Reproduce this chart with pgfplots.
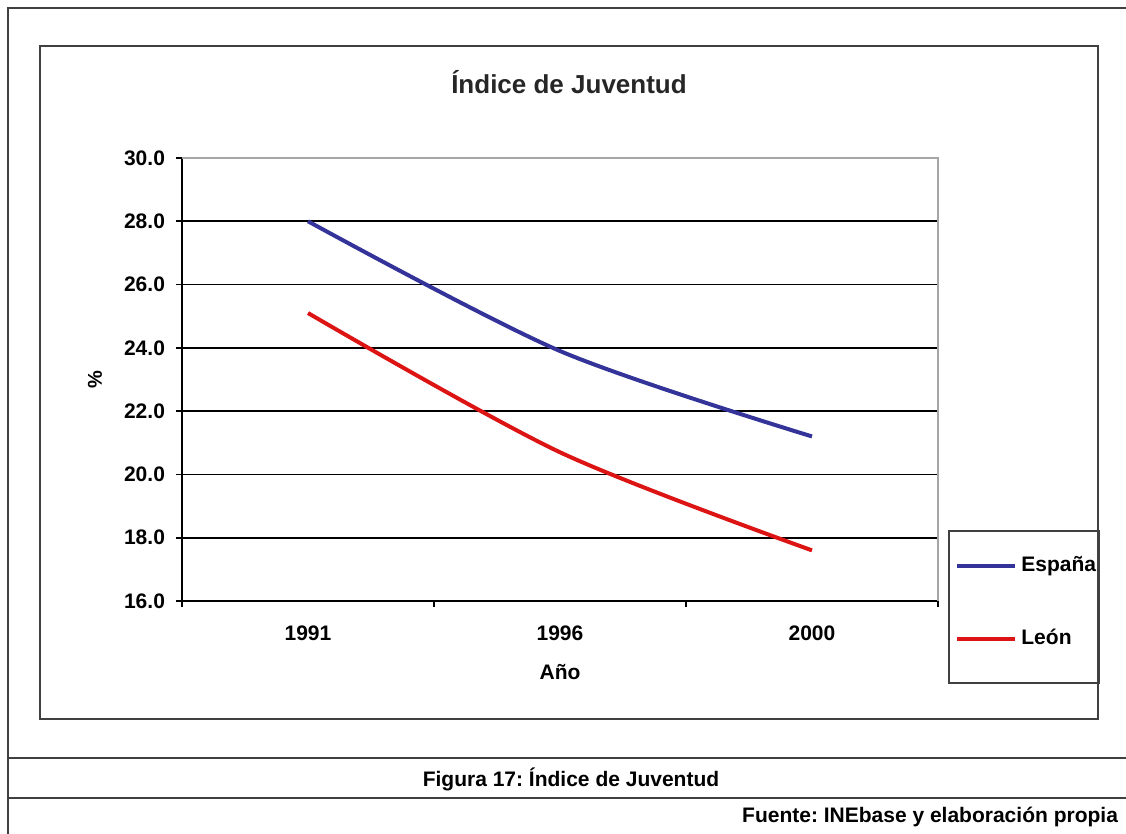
\documentclass[border=0pt]{standalone}
\usepackage{fontspec}
\setmainfont{Liberation Sans}
\usepackage{pgfplots}
\pgfplotsset{compat=1.18}
\frenchspacing
\definecolor{espblue}{RGB}{51,51,153}
\definecolor{leonred}{RGB}{220,20,20}
\definecolor{framegray}{RGB}{64,64,64}
\begin{document}
\begin{tikzpicture}[x=0.5pt,y=0.5pt]
\useasboundingbox (0,0) rectangle (1126,834);
% outer frame
\draw[framegray, line width=1pt] (8,0) -- (8,826) -- (1126,826);
\draw[framegray, line width=1pt] (8,76) -- (1126,76);
\draw[framegray, line width=1pt] (8,36) -- (1126,36);
% chart frame
\draw[framegray, line width=1pt] (40,788) rectangle (1098,115);
% title
\node[font=\bfseries\fontsize{13}{15}\selectfont, text=black!85] at (569,752) {Índice de Juventud};
\begin{axis}[
  at={(91pt,116.5pt)}, anchor=south west,
  scale only axis, width=378pt, height=221.5pt,
  xmin=-0.5, xmax=2.5, ymin=16, ymax=30,
  axis lines=left,
  axis line style={-, black, line width=1pt},
  xtick={-0.5,0.5,1.5,2.5}, xticklabels={},
  extra x ticks={0,1,2},
  extra x tick labels={1991,1996,2000},
  extra x tick style={major tick length=0pt, xticklabel style={yshift=-9pt}},
  ytick={16,18,...,30},
  yticklabel style={/pgf/number format/fixed, /pgf/number format/fixed zerofill, /pgf/number format/precision=1, xshift=-2pt},
  /pgf/number format/assume math mode=true,
  tick align=outside, major tick length=3pt,
  tick style={black, line width=0.8pt},
  ymajorgrids, grid style={black, line width=0.9pt},
  ticklabel style={font=\bfseries\fontsize{10.5}{12}\selectfont},
  xlabel={Año}, ylabel={\%},
  every axis x label/.style={at={(axis description cs:0.5,-0.16)}, anchor=center, font=\bfseries\fontsize{10.5}{12}\selectfont},
  every axis y label/.style={at={(axis description cs:-0.115,0.5)}, anchor=center, rotate=90, font=\bfseries\fontsize{10}{12}\selectfont},
  legend style={at={(axis description cs:1.0225,-0.0034)}, anchor=west, draw=none, fill=none, inner sep=0pt,
    row sep=26.5pt, column sep=2pt,
    nodes={inner sep=0pt, text height=8pt, text depth=2pt},
    font=\bfseries\fontsize{10.5}{12}\selectfont},
  legend cell align=left,
  legend image code/.code={\draw[#1] (0pt,0pt) -- (29pt,0pt);},
]
\addplot[espblue, line width=2pt, smooth] coordinates {(0,28.0) (1,23.9) (2,21.2)};
\addlegendentry{España}
\addplot[leonred, line width=2pt, smooth] coordinates {(0,25.1) (1,20.7) (2,17.6)};
\addlegendentry{León}
\end{axis}
% plot area border (gray) top/right
\draw[gray!70, line width=1pt] (182,676) -- (938,676) -- (938,233);
% legend box
\draw[framegray, line width=1pt] (949,303) rectangle (1099,151);
% captions
\node[font=\bfseries\fontsize{10.5}{12}\selectfont] at (571,55) {Figura 17: Índice de Juventud};
\node[font=\bfseries\fontsize{10.5}{12}\selectfont, anchor=east] at (1125,17) {Fuente: INEbase y elaboración propia};
\end{tikzpicture}
\end{document}
